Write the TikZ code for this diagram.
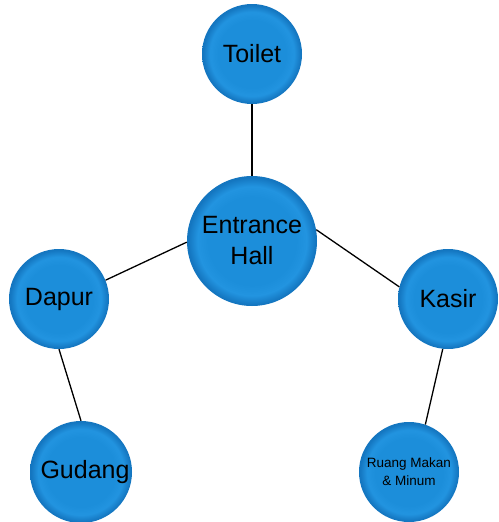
\documentclass[tikz,border=0pt]{standalone}
\usepackage{fontspec}
\setmainfont{Liberation Sans}
\usepackage{xcolor}
\usepackage{tikz}

\definecolor{roomin}{RGB}{28,142,218}
\definecolor{roomring}{RGB}{34,148,224}
\definecolor{roomedge}{RGB}{20,118,192}
\pgfdeclareradialshading{roomshade}{\pgfpoint{0bp}{0bp}}{color(0bp)=(roomin); color(17bp)=(roomin); color(21bp)=(roomring); color(24.5bp)=(roomedge); color(25bp)=(roomedge); color(50bp)=(roomedge)}

\begin{document}
\begin{tikzpicture}[x=1pt,y=-1pt,
		room/.style={circle, shading=roomshade, minimum size=100pt, inner sep=0pt, align=center, font=\fontsize{25}{31}\selectfont},
		link/.style={draw=black, line width=1.3pt}]
			\useasboundingbox (0,0) rectangle (498,522);
			\node[room] (toilet) at (252,54) {Toilet};
			\node[room, minimum size=130pt] (hall) at (252,241) {Entrance\\Hall};
			\node[room] (dapur) at (59,299) {Dapur};
			\node[room] (kasir) at (448,299) {Kasir};
			\node[room, minimum size=102pt] (gudang) at (81,472) {\hspace*{8pt}Gudang};
			\node[room, font=\fontsize{13.5}{18}\selectfont] (ruang) at (409,472) {Ruang Makan\\\& Minum};
			\draw[link] (toilet.south) -- (hall.north);
			\draw[link] (hall.181) -- (dapur.22);
			\draw[link] (hall.10) -- (kasir.166);
			\draw[link] (dapur.south) -- (gudang.north);
			\draw[link] (kasir.264) -- (ruang.71);
		\end{tikzpicture}
\end{document}
